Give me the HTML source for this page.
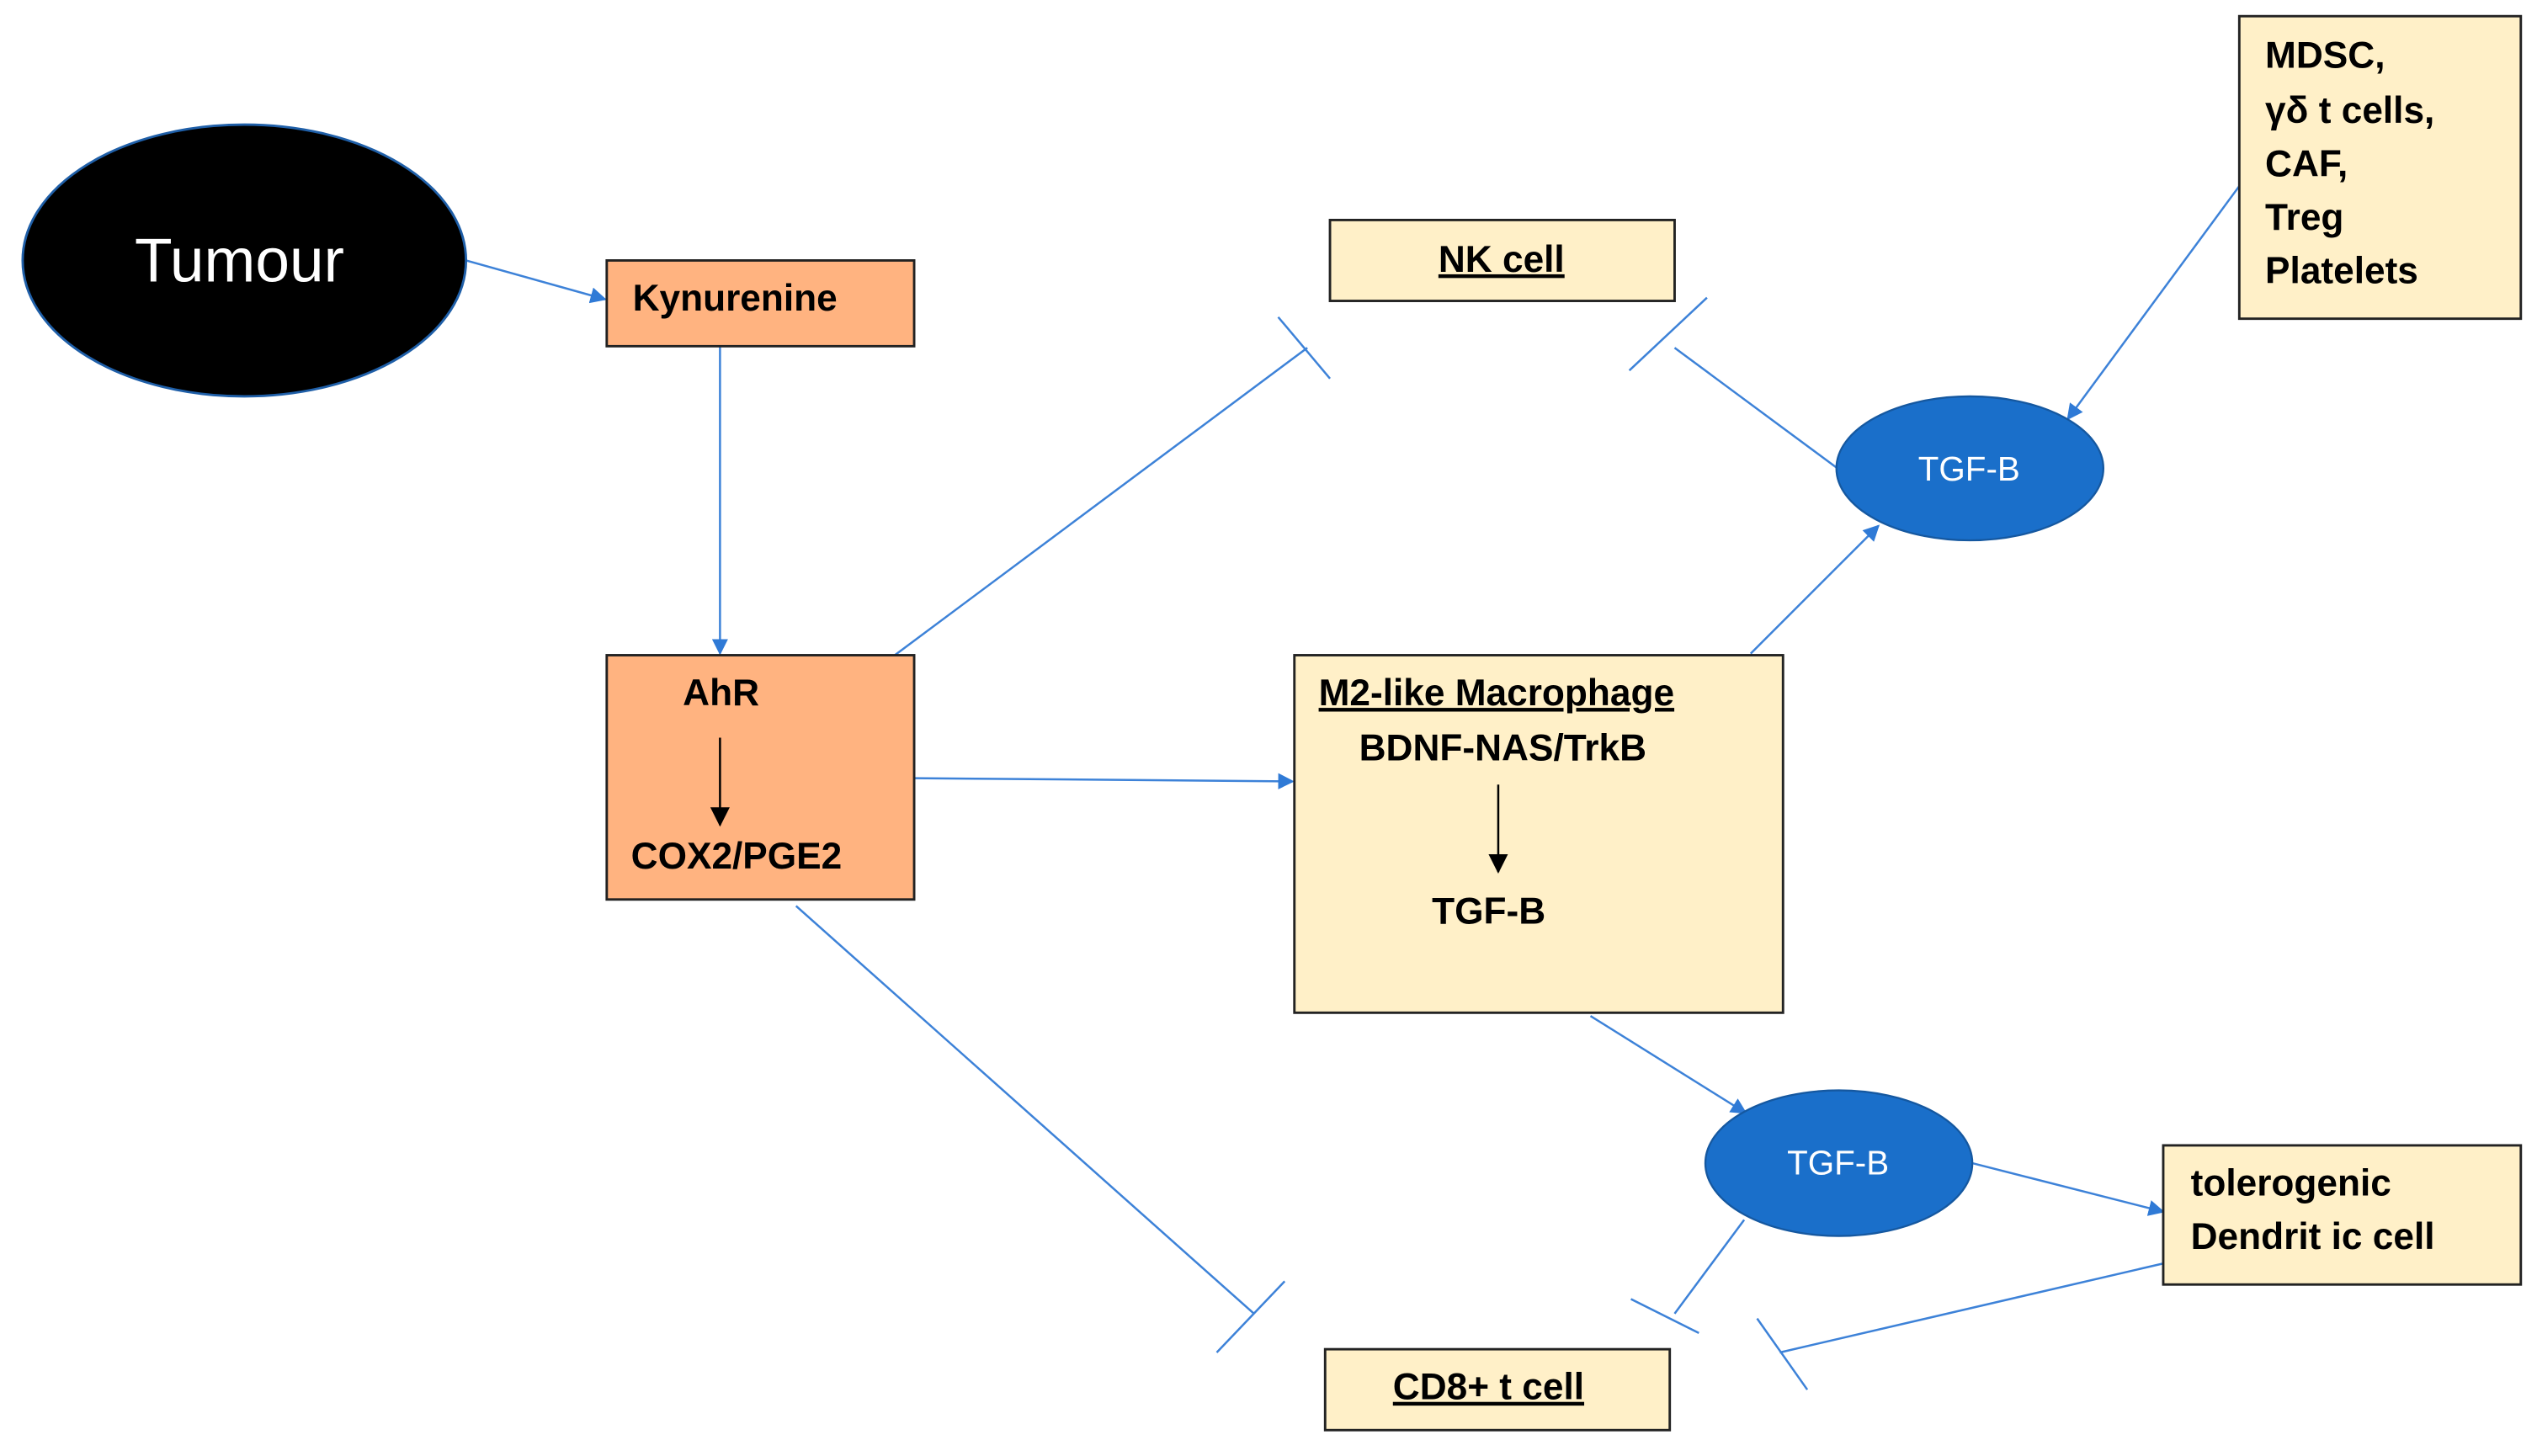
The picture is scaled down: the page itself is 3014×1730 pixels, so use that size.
<!DOCTYPE html>
<html><head><meta charset="utf-8"><style>html,body{margin:0;padding:0;background:#fff}svg{display:block}</style></head>
<body>
<svg width="3014" height="1730" viewBox="0 0 1568 900" preserveAspectRatio="none" xmlns="http://www.w3.org/2000/svg" font-family="'Liberation Sans', sans-serif">
<defs>
<marker id="a" markerWidth="10" markerHeight="10" refX="9" refY="5" orient="auto" markerUnits="userSpaceOnUse"><path d="M0,0 L10,5 L0,10 z" fill="#2f7ad6"/></marker>
<marker id="k" markerWidth="12" markerHeight="12" refX="11" refY="6" orient="auto" markerUnits="userSpaceOnUse"><path d="M0,0 L12,6 L0,12 z" fill="#000"/></marker>
</defs>
<g stroke="#3d82d8" stroke-width="1.3" fill="none">
<line x1="288" y1="161" x2="374" y2="185" marker-end="url(#a)"/>
<line x1="445" y1="214" x2="445" y2="404" marker-end="url(#a)"/>
<line x1="553" y1="405" x2="808" y2="215"/>
<line x1="790" y1="196" x2="822" y2="234"/>
<line x1="565" y1="481" x2="799" y2="483" marker-end="url(#a)"/>
<line x1="492" y1="560" x2="775" y2="812"/>
<line x1="752" y1="836" x2="794" y2="792"/>
<line x1="1135" y1="289" x2="1035" y2="215"/>
<line x1="1007" y1="229" x2="1055" y2="184"/>
<line x1="1082" y1="404" x2="1161" y2="325" marker-end="url(#a)"/>
<line x1="1384" y1="115" x2="1278" y2="259" marker-end="url(#a)"/>
<line x1="983" y1="628" x2="1079" y2="688" marker-end="url(#a)"/>
<line x1="1219" y1="719" x2="1337" y2="749" marker-end="url(#a)"/>
<line x1="1078" y1="754" x2="1035" y2="812"/>
<line x1="1008" y1="803" x2="1050" y2="824"/>
<line x1="1337" y1="781" x2="1100" y2="836"/>
<line x1="1086" y1="815" x2="1117" y2="859"/>
</g>
<ellipse cx="151" cy="161" rx="137" ry="84" fill="#000" stroke="#1f5fa8" stroke-width="1.5"/>
<text x="148" y="174" fill="#fff" font-size="38" text-anchor="middle">Tumour</text>
<g stroke="#222" stroke-width="1.5">
<rect x="375" y="161" width="190" height="53" fill="#ffb380"/>
<rect x="375" y="405" width="190" height="151" fill="#ffb380"/>
<rect x="822" y="136" width="213" height="50" fill="#fff0c8"/>
<rect x="800" y="405" width="302" height="221" fill="#fff0c8"/>
<rect x="1384" y="10" width="174" height="187" fill="#fff0c8"/>
<rect x="1337" y="708" width="221" height="86" fill="#fff0c8"/>
<rect x="819" y="834" width="213" height="50" fill="#fff0c8"/>
</g>
<ellipse cx="1217.5" cy="289.5" rx="82.5" ry="44.5" fill="#1a6fca" stroke="#1558a0" stroke-width="1.2"/>
<ellipse cx="1136.5" cy="719" rx="82.5" ry="45" fill="#1a6fca" stroke="#1558a0" stroke-width="1.2"/>
<text x="1217" y="297" fill="#fff" font-size="21" text-anchor="middle">TGF-B</text>
<text x="1136" y="726" fill="#fff" font-size="21" text-anchor="middle">TGF-B</text>
<line x1="445" y1="456" x2="445" y2="510" stroke="#000" stroke-width="1.3" marker-end="url(#k)"/>
<line x1="926" y1="485" x2="926" y2="539" stroke="#000" stroke-width="1.3" marker-end="url(#k)"/>
<g font-weight="bold" font-size="23" fill="#000">
<text x="391" y="192">Kynurenine</text>
<text x="422" y="436">AhR</text>
<text x="390" y="537">COX2/PGE2</text>
<text x="928" y="168" text-anchor="middle" text-decoration="underline">NK cell</text>
<text x="815" y="436" text-decoration="underline">M2-like Macrophage</text>
<text x="840" y="470">BDNF-NAS/TrkB</text>
<text x="885" y="571">TGF-B</text>
<text x="1400" y="42">MDSC,</text>
<text x="1400" y="76">γδ t cells,</text>
<text x="1400" y="109">CAF,</text>
<text x="1400" y="142">Treg</text>
<text x="1400" y="175">Platelets</text>
<text x="1354" y="739">tolerogenic</text>
<text x="1354" y="772">Dendrit ic cell</text>
<text x="920" y="865" text-anchor="middle" text-decoration="underline">CD8+ t cell</text>
</g>
</svg>
</body></html>
